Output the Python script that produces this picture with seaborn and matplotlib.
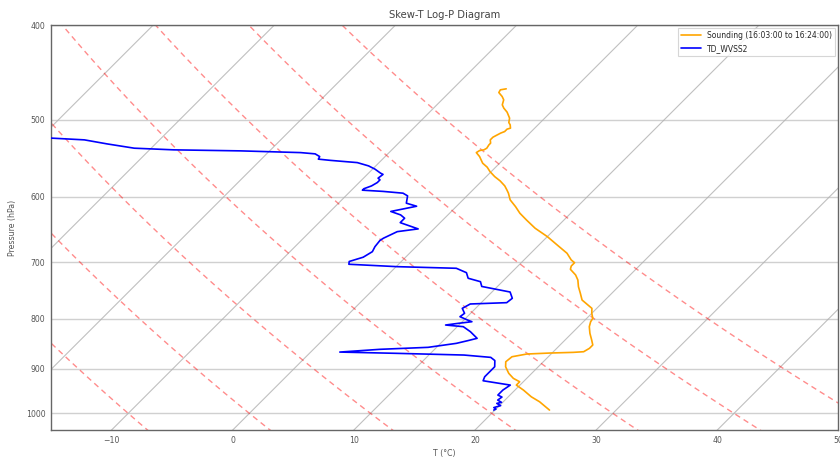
import numpy as np
import pandas as pd
import seaborn as sns
import matplotlib
matplotlib.use("Agg")
import matplotlib.pyplot as plt
from matplotlib.ticker import FixedLocator, NullLocator, FuncFormatter

# ---- sounding data: pressure (hPa) and temperature (degC) ----
sounding_p = [465.0, 466.1, 469.1, 473.5, 477.2, 482.9, 486.7, 491.3, 498.3, 503.5,
              506.2, 510.2, 511.4, 514.3, 516.2, 519.5, 521.2, 524.5, 528.6, 530.7,
              534.9, 537.0, 537.9, 540.5, 545.6, 549.9, 554.2, 559.4, 565.3, 572.0,
              577.8, 584.7, 590.2, 594.8, 604.3, 614.0, 623.6, 633.6, 646.1, 659.0,
              672.1, 685.4, 696.3, 700.8, 706.3, 711.8, 721.4, 730.0, 741.6, 753.2,
              765.3, 774.4, 780.5, 789.7, 799.1, 805.5, 815.0, 827.9, 841.1, 851.0,
              857.7, 864.6, 865.9, 867.3, 869.3, 874.9, 885.3, 895.8, 909.8, 920.7,
              928.1, 935.4, 946.5, 961.6, 973.0, 984.5, 992.2]
sounding_t = [-5.6, -6.0, -5.9, -5.3, -4.9, -4.6, -4.2, -3.6, -2.9, -2.6,
              -2.3, -2.0, -2.2, -2.2, -2.4, -2.6, -2.7, -2.7, -2.4, -2.4,
              -2.3, -2.4, -2.7, -2.8, -2.2, -1.8, -1.4, -0.7, -0.1, 0.7,
              1.5, 2.3, 2.8, 3.2, 3.9, 4.9, 5.8, 6.9, 8.3, 10.0,
              11.5, 13.0, 13.9, 14.4, 14.4, 14.6, 15.5, 16.1, 16.7, 17.4,
              18.1, 19.0, 19.6, 20.0, 20.5, 20.6, 20.9, 21.5, 22.2, 22.7,
              22.7, 22.5, 21.7, 19.8, 18.0, 17.0, 16.9, 17.3, 18.1, 18.9,
              19.7, 19.7, 20.7, 21.9, 23.0, 23.9, 24.5]

# ---- dew point (WVSS-II): pressure (hPa) and dew point (degC) ----
dewpoint_p = [520.3, 522.4, 524.5, 529.5, 534.9, 537.0, 538.3, 540.5, 542.1, 545.6,
              548.9, 550.5, 553.4, 557.7, 562.0, 567.4, 569.0, 574.1, 576.4, 580.1,
              584.7, 588.6, 590.6, 592.3, 594.8, 598.6, 609.0, 613.4, 621.0, 626.1,
              631.0, 637.6, 647.1, 651.3, 661.5, 665.0, 674.8, 682.8, 691.8, 698.8,
              703.4, 707.4, 710.1, 717.5, 727.0, 732.9, 741.2, 751.0, 762.2, 770.1,
              772.5, 780.5, 789.7, 796.0, 802.3, 805.5, 808.6, 811.8, 815.0, 824.7,
              837.7, 842.5, 847.7, 855.7, 859.7, 865.3, 867.9, 871.4, 876.2, 882.8,
              895.8, 906.5, 917.2, 925.9, 935.4, 946.5, 957.7, 962.2, 969.1, 974.3,
              976.7, 981.8, 986.4, 989.9, 992.2]
dewpoint_t = [-41.7, -39.0, -36.2, -34.0, -31.4, -28.0, -22.4, -17.3, -16.0, -15.4,
              -15.3, -14.2, -11.8, -10.6, -9.8, -9.0, -8.7, -8.8, -8.5, -8.5,
              -8.7, -9.1, -9.1, -7.3, -5.5, -4.9, -4.4, -3.3, -5.0, -3.9,
              -3.3, -3.3, -1.3, -2.8, -3.4, -3.5, -3.4, -3.2, -3.5, -4.3,
              -4.1, 0.1, 5.1, 6.3, 6.9, 8.2, 8.7, 11.5, 12.2, 12.1,
              9.2, 8.9, 9.5, 9.4, 10.3, 10.8, 9.8, 8.9, 10.5, 11.5,
              12.6, 12.0, 11.3, 9.3, 5.5, 2.4, 7.2, 12.9, 15.3, 15.9,
              16.4, 16.4, 16.4, 16.6, 19.2, 19.0, 19.0, 19.5, 19.4, 19.9,
              19.6, 20.1, 19.7, 20.0, 19.9]

sounding_label = "Sounding (16:03:00 to 16:24:00)"
dewpoint_label = "TD_WVSS2"

isotherm_temps = np.arange(-60, 60, 10)      # degC
dry_adiabat_thetas = np.arange(-10, 60, 10)  # potential temperature, degC

P_BOTTOM, P_TOP = 1040.0, 400.0
T_LEFT, T_RIGHT = -15, 50
SKEW = 35.0  # degC shift per e-fold of pressure (45 deg on this canvas)


def skew_x(t, p):
    return np.asarray(t, dtype=float) + SKEW * np.log(P_BOTTOM / np.asarray(p, dtype=float))


sns.set_theme(style="white")
plt.rcParams["font.family"] = ["DejaVu Sans"]

fig = plt.figure(figsize=(8.4, 4.58), dpi=100)
ax = fig.add_axes([0.0607, 0.0611, 0.9375, 0.8843])
ax.set_yscale("log")

# background guides: skewed isotherms and dry adiabats
p_grid = np.geomspace(P_BOTTOM + 20, P_TOP - 20, 200)
for t in isotherm_temps:
    ax.plot(skew_x(np.full_like(p_grid, t), p_grid), p_grid,
            color="#b0b0b0", lw=0.8, alpha=0.8, zorder=1)
for th in dry_adiabat_thetas:
    t_line = (th + 273.15) * (p_grid / 1000.0) ** 0.2857 - 273.15
    ax.plot(skew_x(t_line, p_grid), p_grid, color="red", lw=1.0,
            alpha=0.45, ls=(0, (4, 3)), zorder=1)

snd = pd.DataFrame({"p": sounding_p, "t": sounding_t})
snd["x"] = skew_x(snd["t"], snd["p"])
dew = pd.DataFrame({"p": dewpoint_p, "t": dewpoint_t})
dew["x"] = skew_x(dew["t"], dew["p"])

sns.lineplot(data=snd, x="x", y="p", sort=False, estimator=None, ax=ax,
             color="orange", lw=1.2, label=sounding_label, zorder=3)
sns.lineplot(data=dew, x="x", y="p", sort=False, estimator=None, ax=ax,
             color="blue", lw=1.2, label=dewpoint_label, zorder=3)

ax.set_xlim(T_LEFT, T_RIGHT)
ax.set_ylim(P_BOTTOM, P_TOP)
ax.yaxis.set_major_locator(FixedLocator(np.arange(400, 1001, 100)))
ax.yaxis.set_minor_locator(NullLocator())
ax.yaxis.set_major_formatter(FuncFormatter(lambda v, _: f"{v:.0f}"))
ax.set_xticks(np.arange(-10, 51, 10))

ax.grid(axis="y", color="#d0d0d0", lw=1.0, zorder=0)
ax.grid(axis="x", visible=False)
for side in ["left", "bottom", "top", "right"]:
    ax.spines[side].set_color("#666666")
    ax.spines[side].set_linewidth(1.0)

ax.tick_params(axis="both", length=0, pad=4, labelsize=5.6, labelcolor="#555555")
ax.set_xlabel("T (°C)", fontsize=5.6, color="#555555", labelpad=3)
ax.set_ylabel("Pressure (hPa)", fontsize=5.6, color="#555555", labelpad=6)
ax.set_title("Skew-T Log-P Diagram", fontsize=7.2, color="#444444", pad=5)

leg = ax.legend(loc="upper right", fontsize=5.5, frameon=True, handlelength=2.6,
                borderaxespad=0.4, fancybox=False)
leg.get_frame().set_edgecolor("#cccccc")
leg.get_frame().set_linewidth(0.8)

fig.savefig("out.png", dpi=100)
